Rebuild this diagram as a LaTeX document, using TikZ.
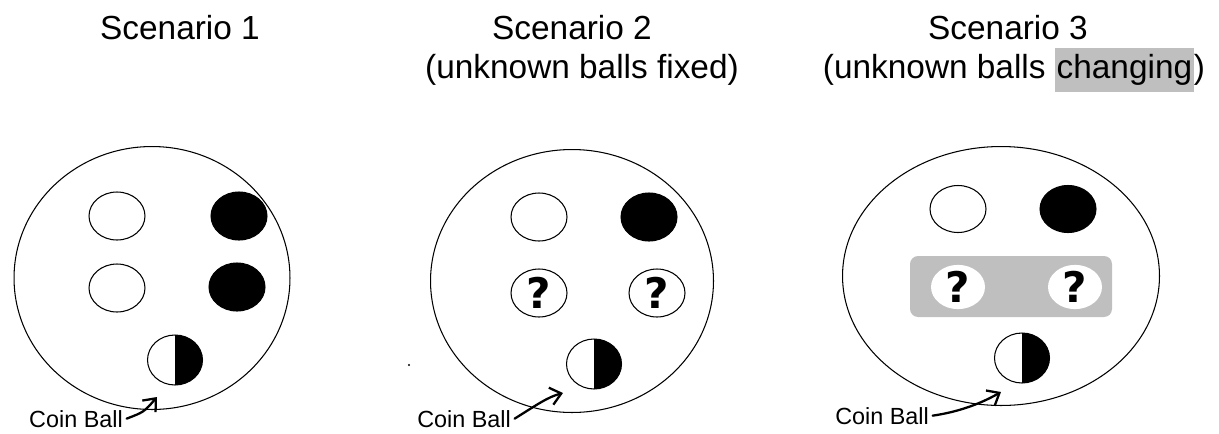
\documentclass[tikz,border=0pt]{standalone}
\usepackage{fontspec}
\setmainfont{Liberation Sans}
\newfontfamily\qmfont{DejaVu Sans}
\usetikzlibrary{shapes.geometric,arrows.meta}
\newcommand{\hlword}[1]{{\setlength{\fboxsep}{1pt}\colorbox{black!25}{\strut #1}}}

\begin{document}
\begin{tikzpicture}[x=0.02cm,y=-0.02cm,
  title/.style={anchor=base,inner sep=0pt,align=center,font=\fontsize{19}{23}\selectfont},
  bag/.style={ellipse,draw,line width=0.6pt,inner sep=0pt},
  ball/.style={ellipse,draw,line width=0.6pt,inner sep=0pt,minimum width=1.12cm,minimum height=0.96cm},
  wball/.style={ball,fill=white},
  bball/.style={ball,fill=black},
  qball/.style={ball,fill=white,font=\qmfont\bfseries\fontsize{24}{24}\selectfont},
  coin/.style={ball,minimum width=1.1cm,minimum height=1cm,
    path picture={\fill[black] (path picture bounding box.north) rectangle (path picture bounding box.south east);}},
  coinlabel/.style={anchor=base,inner sep=2pt,font=\fontsize{13.3}{14}\selectfont},
  pointer/.style={-{Straight Barb[length=6pt,width=10pt]},line width=1.3pt,line cap=round}]
\useasboundingbox (0,0) rectangle (1219,433);

\node[title] (t1) at (180,39) {Scenario 1};
\node[title] (t2) at (572,39) {Scenario 2};
\node[title] (t2b) at (582,78) {(unknown balls fixed)};
\node[title] (t3) at (1008,39) {Scenario 3};
\node[title] (t3b) at (1014,78) {(unknown balls \hlword{changing})};

\node[bag,minimum width=5.52cm,minimum height=5.26cm] (bag1) at (152,278) {};
\node[bag,minimum width=5.66cm,minimum height=5.26cm] (bag2) at (572,281) {};
\node[bag,minimum width=6.34cm,minimum height=5.18cm] (bag3) at (1001,276) {};

\node[wball] (w11) at (117,216) {};
\node[bball] (b11) at (239,216) {};
\node[wball] (w12) at (117,288) {};
\node[bball] (b12) at (237,287) {};
\node[coin] (coin1) at (175,360) {};

\node[wball] (w21) at (539,217) {};
\node[bball] (b21) at (649,217) {};
\node[qball] (q21) at (539,293) {?};
\node[qball] (q22) at (657,293) {?};
\node[coin] (coin2) at (594,364) {};

\node[wball,minimum height=0.94cm] (w31) at (958,209) {};
\node[bball,minimum height=0.94cm] (b31) at (1068,209) {};
\node[draw=none,fill=black!25,rounded corners=0.16cm,minimum width=4.04cm,minimum height=1.22cm] (grp) at (1011,286.5) {};
\node[qball,draw=none,minimum width=1.08cm,minimum height=0.84cm] (q31) at (958,287) {?};
\node[qball,draw=none,minimum width=1.08cm,minimum height=0.84cm] (q32) at (1075,287) {?};
\node[coin] (coin3) at (1022,358) {};

\fill (409,365) circle (1.2);

\node[coinlabel] (lbl1) at (76,427) {Coin Ball};
\node[coinlabel] (lbl2) at (464,427) {Coin Ball};
\node[coinlabel] (lbl3) at (882,424) {Coin Ball};
\coordinate (tip1) at (157,397);
\coordinate (tip2) at (563,393);
\coordinate (tip3) at (1001,392);
\draw[pointer] (lbl1.east) .. controls (144,412) .. (tip1);
\draw[pointer] (lbl2.east) .. controls (538,404) and (548,397) .. (tip2);
\draw[pointer] (lbl3.east) .. controls (958,412) and (980,404) .. (tip3);
\end{tikzpicture}
\end{document}
